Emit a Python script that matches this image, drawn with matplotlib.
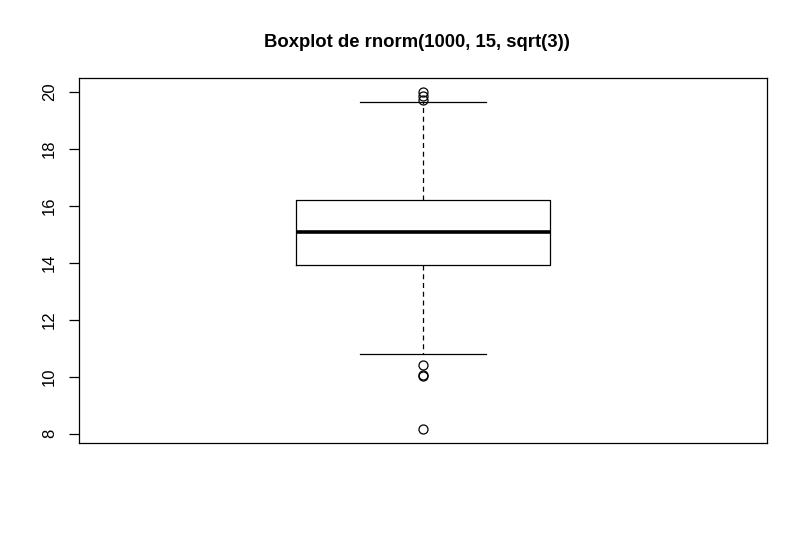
import matplotlib
matplotlib.use("Agg")
import matplotlib.pyplot as plt

# summary
q1 = 13.91
med = 15.07
q3 = 16.19
whislo = 10.80
whishi = 19.62
fliers = [20.00, 19.85, 19.70, 10.41, 10.06, 10.02, 8.15]
yticks = [8, 10, 12, 14, 16, 18, 20]

plt.rcParams['font.family'] = ['Liberation Sans', 'DejaVu Sans']

fig = plt.figure(figsize=(8.08, 5.42), dpi=100)
ax = fig.add_axes([0.0978, 0.1827, 0.8515, 0.6733])

stats = [dict(med=med, q1=q1, q3=q3, whislo=whislo, whishi=whishi, fliers=fliers)]
ax.bxp(stats, positions=[1], widths=0.40, showfliers=True,
       boxprops=dict(color='black', linewidth=0.9),
       medianprops=dict(color='black', linewidth=2.6),
       whiskerprops=dict(color='black', linewidth=0.9, linestyle=(0, (4, 3))),
       capprops=dict(color='black', linewidth=0.9),
       capwidths=0.198,
       flierprops=dict(marker='o', markerfacecolor='none', markeredgecolor='black',
                       markersize=6.5, markeredgewidth=0.9))

lo = min(fliers + [whislo])
hi = max(fliers + [whishi])
pad = 0.04 * (hi - lo)
ax.set_ylim(lo - pad, hi + pad)
ax.set_xlim(0.46, 1.54)

ax.set_yticks(yticks)
ax.set_yticklabels([str(t) for t in yticks], rotation=90, va='center', fontsize=12)
ax.tick_params(axis='y', length=7, width=0.9, pad=9)
ax.set_xticks([])
for s in ax.spines.values():
    s.set_linewidth(0.9)

ax.set_title("Boxplot de rnorm(1000, 15, sqrt(3))", fontsize=13.3, fontweight='bold',
             pad=22, x=0.491)

fig.savefig("out.png", dpi=100)
